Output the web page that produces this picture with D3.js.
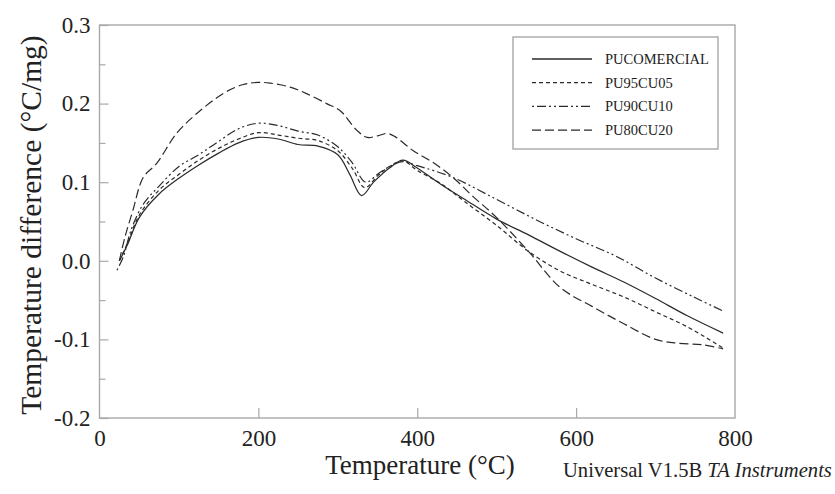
<!DOCTYPE html>
<html>
<head>
<meta charset="utf-8">
<script src="https://cdn.jsdelivr.net/npm/d3@7"></script>
<style>
  html, body { margin: 0; padding: 0; background: #fff; }
  svg { display: block; }
  text { font-family: "Liberation Serif", "DejaVu Serif", serif; fill: #222; }
</style>
</head>
<body>
<svg id="chart" width="835" height="494"></svg>
<script>
// ---- data ----
const xTicks = [0, 200, 400, 600, 800];
const yTicks = [-0.2, -0.1, 0.0, 0.1, 0.2, 0.3];
const yTickLabels = ["-0.2", "-0.1", "0.0", "0.1", "0.2", "0.3"];
const yMinorTicks = [-0.15, -0.05, 0.05, 0.15, 0.25];
const xInnerTicks = [200, 400, 600];

const seriesNames = ["PUCOMERCIAL", "PU95CU05", "PU90CU10", "PU80CU20"];

const tempComercial = [25, 35, 50, 75, 100, 125, 150, 175, 200, 225, 250, 275, 300, 315, 330, 345, 365, 382, 400, 430, 460, 500, 540, 580, 620, 660, 700, 740, 785];
const valComercial  = [0.0, 0.02, 0.055, 0.085, 0.105, 0.122, 0.137, 0.15, 0.157, 0.155, 0.148, 0.146, 0.135, 0.11, 0.083, 0.1, 0.118, 0.128, 0.118, 0.097, 0.078, 0.053, 0.033, 0.012, -0.008, -0.027, -0.048, -0.07, -0.092];

const temp95 = [25, 35, 50, 75, 100, 125, 150, 175, 200, 225, 250, 275, 300, 318, 334, 350, 365, 382, 400, 430, 460, 500, 540, 580, 620, 660, 700, 740, 785];
const val95  = [0.0, 0.022, 0.058, 0.09, 0.11, 0.128, 0.143, 0.155, 0.163, 0.16, 0.156, 0.153, 0.14, 0.118, 0.093, 0.108, 0.12, 0.127, 0.115, 0.098, 0.075, 0.045, 0.012, -0.013, -0.03, -0.046, -0.065, -0.084, -0.111];

const temp90 = [22, 30, 40, 55, 75, 100, 125, 150, 175, 200, 225, 250, 275, 300, 318, 335, 350, 365, 382, 400, 445, 500, 550, 600, 650, 700, 750, 785];
const val90  = [-0.012, 0.005, 0.04, 0.072, 0.095, 0.12, 0.135, 0.152, 0.168, 0.175, 0.172, 0.165, 0.16, 0.145, 0.125, 0.1, 0.11, 0.12, 0.126, 0.121, 0.106, 0.078, 0.052, 0.028, 0.006, -0.022, -0.047, -0.064];

const temp80 = [25, 32, 42, 55, 72, 97, 122, 156, 180, 200, 215, 240, 262, 286, 303, 324, 337, 350, 362, 372, 395, 420, 445, 470, 500, 540, 580, 620, 660, 700, 730, 760, 785];
const val80  = [0.0, 0.03, 0.064, 0.106, 0.124, 0.162, 0.187, 0.213, 0.224, 0.227, 0.226, 0.221, 0.212, 0.2, 0.191, 0.166, 0.157, 0.159, 0.162, 0.158, 0.14, 0.125, 0.106, 0.082, 0.055, 0.012, -0.034, -0.058, -0.08, -0.1, -0.105, -0.107, -0.112];

const dashes = ["none", "4,3", "2,3,9,3,2,3", "9,4"];

// ---- build ----
const series = [
  { name: seriesNames[0], t: tempComercial, v: valComercial, dash: dashes[0] },
  { name: seriesNames[1], t: temp95, v: val95, dash: dashes[1] },
  { name: seriesNames[2], t: temp90, v: val90, dash: dashes[2] },
  { name: seriesNames[3], t: temp80, v: val80, dash: dashes[3] }
];

const svg = d3.select("#chart");
const L = 99.5, R = 735, T = 25, B = 418;
const x = d3.scaleLinear().domain([0, 800]).range([L, R]);
const y = d3.scaleLinear().domain([-0.2, 0.3]).range([B, T]);

const frameColor = "#a8a8a8";

// y axis (ticks inward)
const yAxis = svg.append("g").attr("transform", `translate(${L},0)`)
  .call(d3.axisLeft(y).tickValues(yTicks).tickSize(-9).tickPadding(9)
        .tickFormat((d, i) => yTickLabels[i]));
yAxis.select(".domain").remove();
yAxis.selectAll("line").attr("stroke", frameColor).attr("stroke-width", 1.2);
yAxis.selectAll("text").attr("font-size", 23).attr("font-family", "Liberation Serif").attr("fill", "#222");

const yMinor = svg.append("g").attr("transform", `translate(${L},0)`)
  .call(d3.axisLeft(y).tickValues(yMinorTicks).tickSize(-6).tickFormat(""));
yMinor.select(".domain").remove();
yMinor.selectAll("line").attr("stroke", frameColor).attr("stroke-width", 1.2);

// x axis
const xAxis = svg.append("g").attr("transform", `translate(0,${B})`)
  .call(d3.axisBottom(x).tickValues(xTicks).tickSize(0).tickPadding(12)
        .tickFormat(d3.format("d")));
xAxis.select(".domain").remove();
xAxis.selectAll("text").attr("font-size", 23).attr("font-family", "Liberation Serif").attr("fill", "#222");

const xInner = svg.append("g").attr("transform", `translate(0,${B})`)
  .call(d3.axisBottom(x).tickValues(xInnerTicks).tickSize(-10).tickFormat(""));
xInner.select(".domain").remove();
xInner.selectAll("line").attr("stroke", frameColor).attr("stroke-width", 1.2);

// frame
svg.append("rect").attr("x", L).attr("y", T).attr("width", R - L).attr("height", B - T)
  .attr("fill", "none").attr("stroke", frameColor).attr("stroke-width", 1.4);

// curves
const line = d3.line()
  .x(d => x(d[0])).y(d => y(d[1]))
  .curve(d3.curveCatmullRom.alpha(0.5));

series.forEach(s => {
  const pts = s.t.map((t, i) => [t, s.v[i]]);
  svg.append("path").datum(pts)
    .attr("d", line)
    .attr("fill", "none")
    .attr("stroke", "#2a2a2a")
    .attr("stroke-width", 1.2)
    .attr("stroke-dasharray", s.dash);
});

// legend
const lg = svg.append("g");
lg.append("rect").attr("x", 513).attr("y", 37).attr("width", 205).attr("height", 112)
  .attr("fill", "#fff").attr("stroke", frameColor).attr("stroke-width", 1.4);
series.forEach((s, i) => {
  const yy = 59 + i * 23.7;
  lg.append("line").attr("x1", 532).attr("x2", 592).attr("y1", yy).attr("y2", yy)
    .attr("stroke", "#2a2a2a").attr("stroke-width", 1.3).attr("stroke-dasharray", s.dash);
  lg.append("text").attr("x", 605).attr("y", yy + 5).attr("font-size", 14.5).text(s.name);
});

// titles
svg.append("text").attr("x", 420).attr("y", 474).attr("text-anchor", "middle")
  .attr("font-size", 27).text("Temperature (°C)");

svg.append("text")
  .attr("transform", "translate(41,225) rotate(-90)")
  .attr("text-anchor", "middle").attr("font-size", 29.5)
  .text("Temperature difference (°C/mg)");

const foot = svg.append("text").attr("x", 563).attr("y", 477).attr("font-size", 20.6);
foot.append("tspan").text("Universal V1.5B ");
foot.append("tspan").attr("font-style", "italic").text("TA Instruments");
</script>
</body>
</html>
